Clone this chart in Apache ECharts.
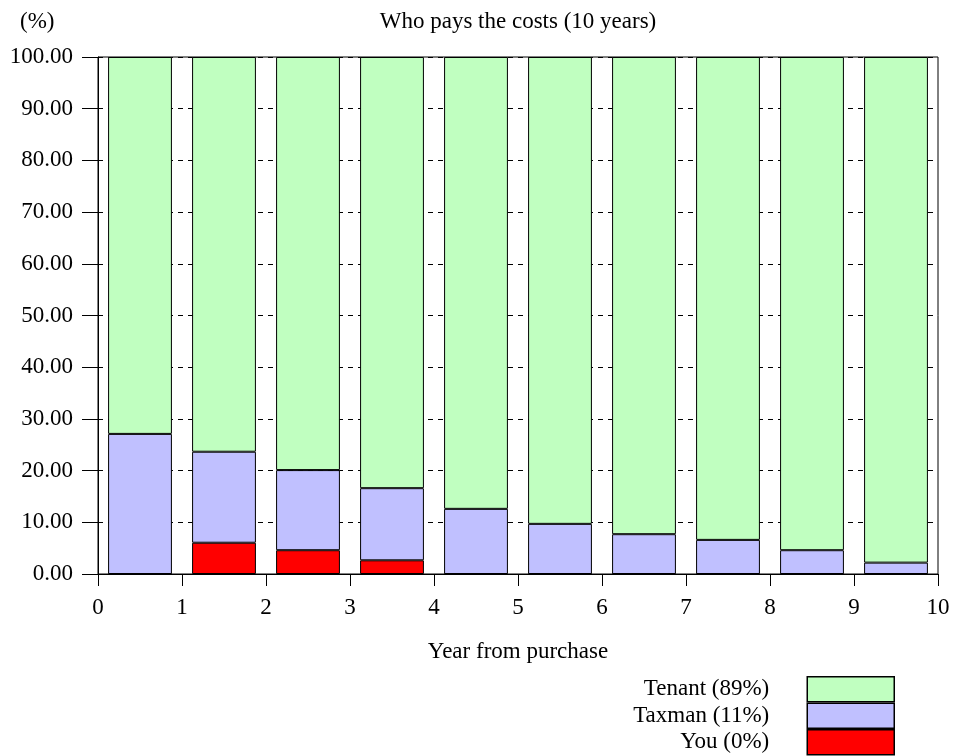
<!DOCTYPE html>
<html lang="en">
<head>
  <meta charset="UTF-8">
  <title>Who pays the costs</title>
  <style>
    body { margin: 0; background: #fff; }
    #chart { width: 953px; height: 756px; }
  </style>
</head>
<body>
  <div id="chart"></div>

  <script src="https://cdn.jsdelivr.net/npm/echarts@6/dist/echarts.min.js"></script>
  <script>
    // data (percent of costs per year)
    const years = ['1', '2', '3', '4', '5', '6', '7', '8', '9', '10'];
    const you = [0, 6.05, 4.6, 2.65, 0, 0, 0, 0, 0, 0];
    const taxman = [27.1, 17.6, 15.5, 13.95, 12.6, 9.7, 7.7, 6.6, 4.6, 2.2];
    const tenant = [72.9, 76.35, 79.9, 83.4, 87.4, 90.3, 92.3, 93.4, 95.4, 97.8];
    const seriesNames = ['You (0%)', 'Taxman (11%)', 'Tenant (89%)'];
    const legendOrder = ['Tenant (89%)', 'Taxman (11%)', 'You (0%)'];

    const font = 'Liberation Serif, Times New Roman, serif';
    const fontSize = 23;
    const colors = ['#ff0000', '#c0c0ff', '#c0ffc0'];

    const chart = echarts.init(document.getElementById('chart'));

    function barSeries(name, data, color) {
      return {
        name: name,
        type: 'bar',
        stack: 'all',
        xAxisIndex: 1,
        data: data,
        barWidth: '76%',
        itemStyle: { color: color, borderColor: '#000', borderWidth: 1 }
      };
    }

    chart.setOption({
      animation: false,
      textStyle: { fontFamily: font, color: '#000' },
      title: [
        {
          text: 'Who pays the costs (10 years)',
          left: 518,
          top: 10,
          textAlign: 'center',
          padding: 0,
          textStyle: { fontFamily: font, fontSize: fontSize, fontWeight: 'normal', color: '#000' }
        },
        {
          text: '(%)',
          left: 20,
          top: 10,
          padding: 0,
          textStyle: { fontFamily: font, fontSize: fontSize, fontWeight: 'normal', color: '#000' }
        }
      ],
      grid: {
        left: 98,
        right: 15,
        top: 57,
        bottom: 182,
        show: true,
        borderColor: '#000',
        borderWidth: 1
      },
      legend: {
        data: legendOrder,
        orient: 'vertical',
        right: 58,
        top: 676,
        height: 84,
        align: 'right',
        icon: 'rect',
        itemWidth: 87,
        itemHeight: 25,
        itemGap: 0,
        padding: 0,
        textStyle: { fontFamily: font, fontSize: fontSize, color: '#000', padding: [0, 33, 0, 0] },
        itemStyle: { borderColor: '#000', borderWidth: 1.5 }
      },
      xAxis: [
        {
          type: 'value',
          min: 0,
          max: 10,
          interval: 1,
          position: 'bottom',
          name: 'Year from purchase',
          nameLocation: 'middle',
          nameGap: 66,
          nameTextStyle: { fontFamily: font, fontSize: fontSize, color: '#000' },
          axisLine: { show: true, lineStyle: { color: '#000', width: 1 } },
          axisTick: { show: true, length: 12, lineStyle: { color: '#000' } },
          axisLabel: { fontFamily: font, fontSize: fontSize, color: '#000', margin: 22 },
          splitLine: { show: false }
        },
        {
          type: 'category',
          data: years,
          boundaryGap: true,
          show: false
        }
      ],
      yAxis: [
        {
          type: 'value',
          min: 0,
          max: 100,
          interval: 10,
          axisLine: { show: true, lineStyle: { color: '#000', width: 1 } },
          axisTick: { show: true, length: 16, lineStyle: { color: '#000' } },
          axisLabel: {
            fontFamily: font,
            fontSize: fontSize,
            color: '#000',
            margin: 25,
            formatter: v => v.toFixed(2)
          },
          splitLine: {
            show: true,
            lineStyle: { color: '#000', type: [5, 5], width: 1 }
          }
        },
        {
          // short inward ticks on the left axis
          type: 'value',
          min: 0,
          max: 100,
          interval: 10,
          position: 'left',
          axisLine: { show: false },
          axisTick: { show: true, inside: true, length: 5, lineStyle: { color: '#000' } },
          axisLabel: { show: false },
          splitLine: { show: false }
        }
      ],
      series: [
        barSeries(seriesNames[0], you, colors[0]),
        barSeries(seriesNames[1], taxman, colors[1]),
        barSeries(seriesNames[2], tenant, colors[2])
      ]
    });
  </script>
</body>
</html>
